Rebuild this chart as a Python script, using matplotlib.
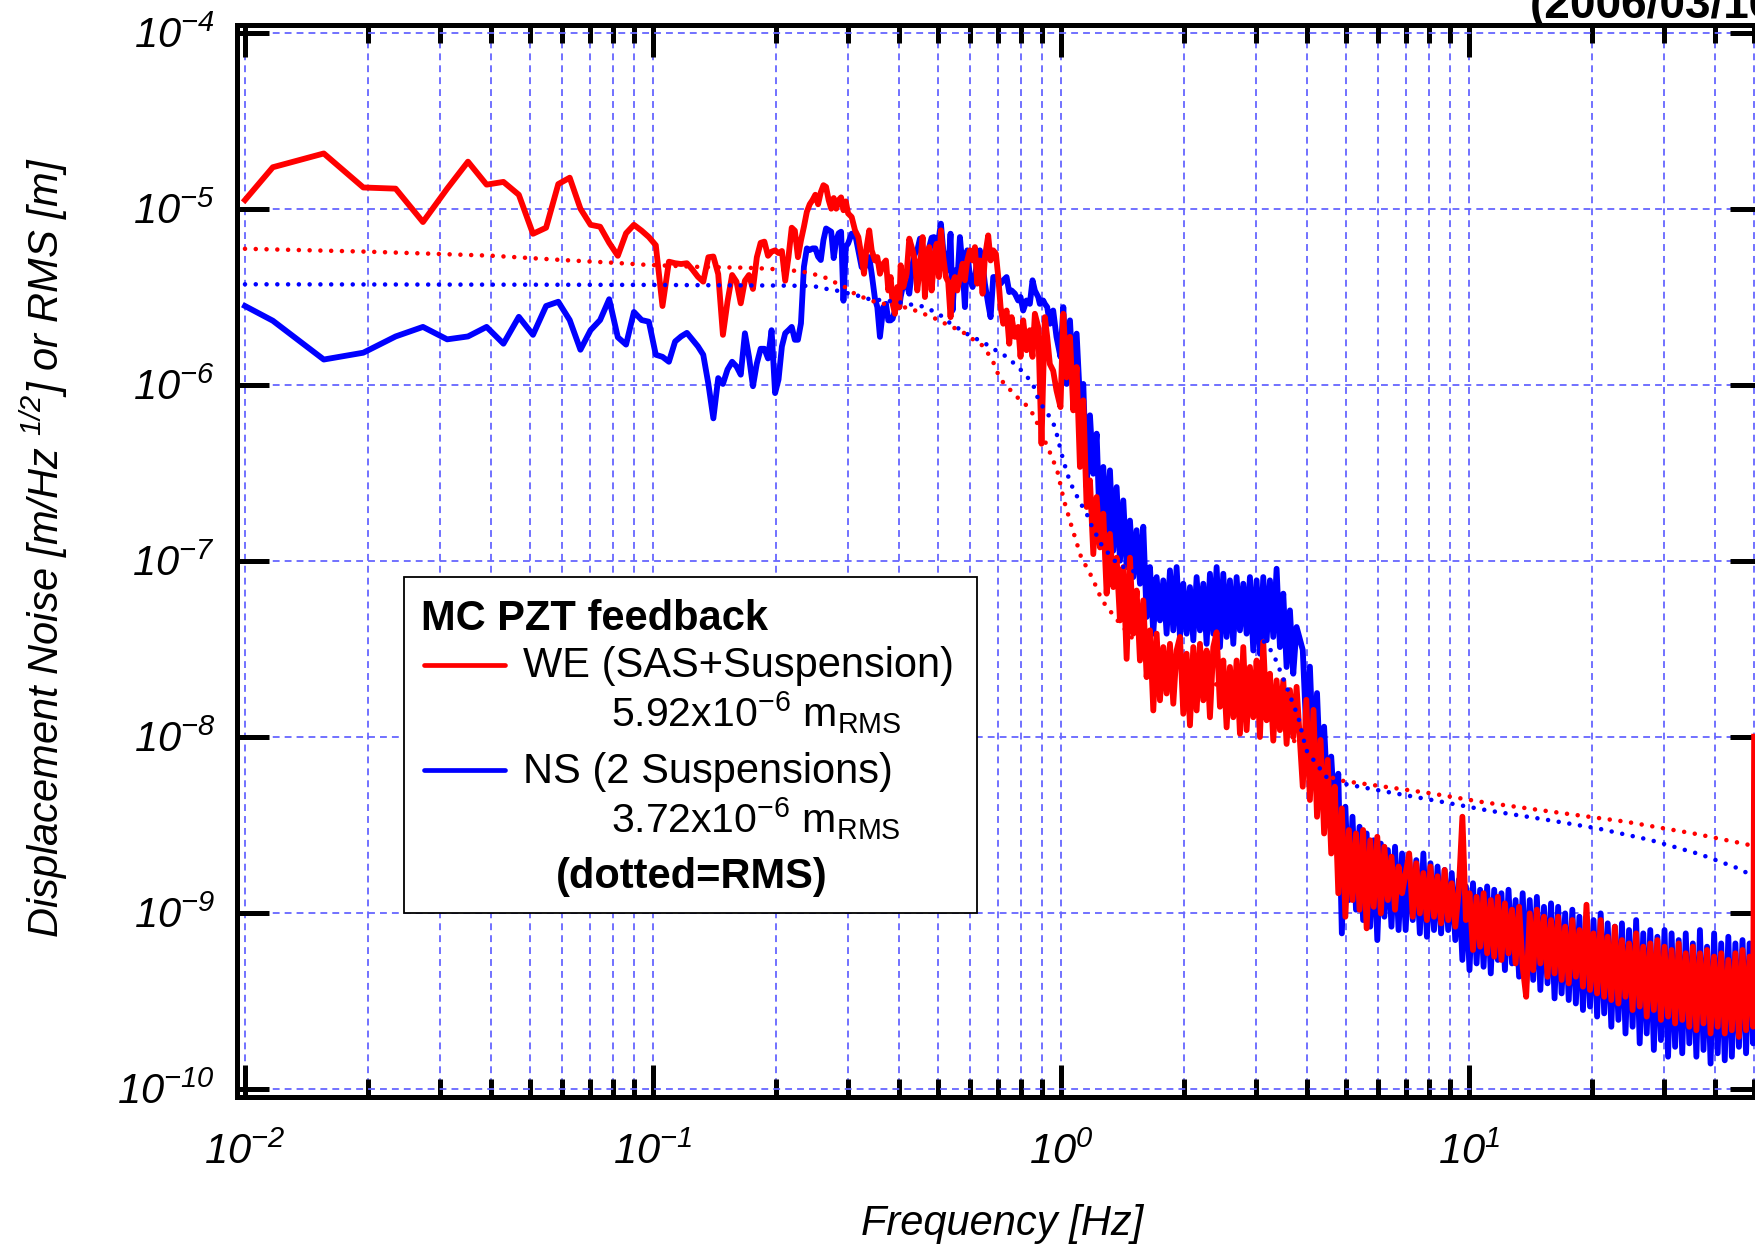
import matplotlib
matplotlib.use("Agg")
import matplotlib.pyplot as plt
from matplotlib.patches import Rectangle
from matplotlib.lines import Line2D
from matplotlib.ticker import FixedLocator, NullFormatter, NullLocator, FixedFormatter

plt.rcParams['font.family'] = ['Liberation Sans', 'DejaVu Sans']
plt.rcParams['mathtext.fontset'] = 'custom'
plt.rcParams['mathtext.rm'] = 'Liberation Sans:italic'
plt.rcParams['mathtext.it'] = 'Liberation Sans:italic'
plt.rcParams['mathtext.sf'] = 'Liberation Sans'
plt.rcParams['mathtext.bf'] = 'Liberation Sans:bold'

# ---------------- data ----------------
freq_hz = [
    0.0100, 0.0117, 0.0156, 0.0195, 0.0234, 0.0273, 0.0313, 0.0352, 0.0391, 0.0430,
    0.0469, 0.0508, 0.0547, 0.0586, 0.0625, 0.0664, 0.0703, 0.0742, 0.0781, 0.0820,
    0.0859, 0.0898, 0.0938, 0.0977, 0.1016, 0.1055, 0.1094, 0.1133, 0.1172, 0.1211,
    0.1250, 0.1289, 0.1328, 0.1367, 0.1406, 0.1445, 0.1484, 0.1523, 0.1563, 0.1602,
    0.1641, 0.1680, 0.1719, 0.1758, 0.1797, 0.1836, 0.1875, 0.1914, 0.1953, 0.1992,
    0.2031, 0.2070, 0.2109, 0.2148, 0.2188, 0.2227, 0.2266, 0.2305, 0.2344, 0.2383,
    0.2422, 0.2461, 0.2500, 0.2539, 0.2578, 0.2617, 0.2656, 0.2695, 0.2734, 0.2773,
    0.2813, 0.2852, 0.2891, 0.2930, 0.2969, 0.3008,
    0.3069, 0.3128, 0.3187, 0.3246, 0.3290, 0.3339, 0.3389, 0.3436, 0.3500, 0.3547,
    0.3600, 0.3668, 0.3724, 0.3774, 0.3824, 0.3867, 0.3918, 0.3970, 0.4015, 0.4046,
    0.4108, 0.4185, 0.4248, 0.4329, 0.4386, 0.4444, 0.4512, 0.4580, 0.4640, 0.4685,
    0.4755, 0.4819, 0.4882, 0.4956, 0.5021, 0.5078, 0.5146, 0.5223, 0.5292, 0.5362,
    0.5423, 0.5495, 0.5569, 0.5653, 0.5739, 0.5815, 0.5892, 0.5981, 0.6073, 0.6153,
    0.6234, 0.6328, 0.6424, 0.6509, 0.6632, 0.6722, 0.6823, 0.6926, 0.7019, 0.7112,
    0.7220, 0.7356, 0.7468, 0.7567, 0.7710, 0.7855, 0.7959, 0.8079, 0.8233, 0.8389,
    0.8516, 0.8630, 0.8794, 0.8876, 0.8960, 0.9045, 0.9130, 0.9252, 0.9391, 0.9570,
    0.9750, 0.9972,
    1.0133, 1.0325, 1.0521, 1.0720, 1.0924, 1.1131, 1.1342, 1.1558, 1.1777, 1.2001,
    1.2229, 1.2461, 1.2698, 1.2939, 1.3184, 1.3435, 1.3690, 1.3950, 1.4215, 1.4485,
    1.4760, 1.5040, 1.5326, 1.5617, 1.5913, 1.6216, 1.6523, 1.6837, 1.7157, 1.7483,
    1.7815, 1.8153, 1.8498, 1.8849, 1.9207, 1.9572, 1.9943, 2.0322, 2.0708, 2.1101,
    2.1502, 2.1910, 2.2326, 2.2750, 2.3182, 2.3622, 2.4071, 2.4528, 2.4993, 2.5468,
    2.5951, 2.6444, 2.6946, 2.7458, 2.7979, 2.8510, 2.9052, 2.9603, 3.0165, 3.0738,
    3.1321, 3.1916, 3.2522, 3.3139, 3.3768, 3.4409, 3.5063, 3.5728, 3.6407, 3.7098,
    3.7802,
    3.914, 3.994, 4.075, 4.158, 4.242, 4.328, 4.415, 4.505, 4.596, 4.689,
    4.783, 4.880, 4.978, 5.079, 5.182, 5.286, 5.393, 5.502, 5.613, 5.727,
    5.842, 5.961, 6.081, 6.204, 6.329, 6.457, 6.588, 6.721, 6.856, 6.995,
    7.136, 7.281, 7.428, 7.578, 7.731, 7.887, 8.047, 8.209, 8.375, 8.544,
    8.717, 8.894, 9.073, 9.257, 9.444, 9.635, 9.829, 10.03, 10.23, 10.44,
    10.65, 10.86, 11.08, 11.31, 11.53, 11.77, 12.01, 12.25, 12.50, 12.75,
    13.01, 13.27, 13.54, 13.81, 14.09, 14.37, 14.67, 14.96, 15.27, 15.58,
    15.89, 16.21, 16.54, 16.87, 17.21, 17.56, 17.92, 18.28, 18.65, 19.03,
    19.41, 19.80, 20.20, 20.61, 21.03, 21.45, 21.88, 22.33, 22.78, 23.24,
    23.71, 24.19, 24.68, 25.18, 25.69, 26.21, 26.74, 27.27, 27.82, 28.39,
    28.96, 29.55, 30.15, 30.76, 31.38, 32.01, 32.66, 33.32, 33.99, 34.68,
    35.38, 36.09, 36.82, 37.57, 38.33, 39.10, 39.89, 40.70, 41.52, 42.36,
    43.22, 44.09, 44.98, 45.89, 46.82, 47.77, 48.73, 49.72,
    50.00,
]

we_asd = [  # WE (SAS+Suspension), m/rtHz
    1.12e-5, 1.72e-5, 2.06e-5, 1.32e-5, 1.30e-5, 8.4e-6, 1.30e-5, 1.85e-5, 1.37e-5, 1.42e-5,
    1.20e-5, 7.2e-6, 7.8e-6, 1.38e-5, 1.50e-5, 1.00e-5, 8.1e-6, 7.9e-6, 6.4e-6, 5.4e-6,
    7.25e-6, 8.1e-6, 7.5e-6, 6.9e-6, 6.2e-6, 2.8e-6, 5.0e-6, 4.9e-6, 4.85e-6, 4.9e-6,
    4.5e-6, 4.1e-6, 3.85e-6, 5.3e-6, 5.35e-6, 4.25e-6, 1.92e-6, 2.97e-6, 4.2e-6, 3.85e-6,
    2.9e-6, 3.9e-6, 4.2e-6, 3.5e-6, 5.3e-6, 6.4e-6, 6.5e-6, 5.4e-6, 5.7e-6, 5.8e-6,
    5.6e-6, 5.75e-6, 3.9e-6, 5.3e-6, 7.8e-6, 7.5e-6, 5.3e-6, 6.6e-6, 7.9e-6, 9.6e-6,
    1.06e-5, 1.12e-5, 1.20e-5, 1.06e-5, 1.24e-5, 1.36e-5, 1.33e-5, 1.12e-5, 1.00e-5, 1.15e-5,
    1.00e-5, 1.12e-5, 1.16e-5, 9.8e-6, 1.10e-5, 9.4e-6,
    8.97e-6, 7.53e-6, 6.9e-6, 5.31e-6, 4.27e-6, 6.05e-6, 7.53e-6, 5.8e-6, 5.08e-6, 5.31e-6,
    4.27e-6, 4.87e-6, 5.08e-6, 3.43e-6, 4.09e-6, 2.88e-6, 2.53e-6, 3.59e-6, 2.76e-6, 4.77e-6,
    3.59e-6, 4.27e-6, 6.76e-6, 5.8e-6, 5.08e-6, 3.43e-6, 4.67e-6, 6.9e-6, 3.15e-6, 4.67e-6,
    6.05e-6, 3.43e-6, 5.08e-6, 6.32e-6, 4.09e-6, 7.53e-6, 5.31e-6, 4.09e-6, 3.83e-6, 2.42e-6,
    3.75e-6, 4.09e-6, 3.43e-6, 4.09e-6, 4.87e-6, 3.92e-6, 5.08e-6, 5.8e-6, 5.08e-6, 6.05e-6,
    3.75e-6, 5.08e-6, 3.29e-6, 5.31e-6, 7.05e-6, 5.08e-6, 5.8e-6, 5.55e-6, 4.09e-6, 2.76e-6,
    2.22e-6, 2.64e-6, 1.71e-6, 2.42e-6, 1.87e-6, 2.13e-6, 1.44e-6, 2.32e-6, 1.57e-6, 2.04e-6,
    1.44e-6, 2.53e-6, 2.13e-6, 1.01e-6, 4.62e-7, 1.10e-6, 2.42e-6, 1.87e-6, 1.31e-6, 1.20e-6,
    9.28e-7, 7.46e-7,
    2.53e-6, 1.10e-6, 1.87e-6, 7.15e-7, 1.26e-6, 3.41e-7, 8.15e-7, 2.02e-7, 2.86e-7, 1.09e-7,
    2.30e-7, 1.19e-7, 1.85e-7, 6.5e-8, 1.42e-7, 7.08e-8, 1.04e-7, 4.58e-8, 9.2e-8, 2.77e-8,
    1.04e-7, 3.85e-8, 6.77e-8, 2.71e-8, 5.95e-8, 2.18e-8, 4.02e-8, 1.41e-8, 3.85e-8, 1.61e-8,
    3.23e-8, 1.76e-8, 3.37e-8, 1.54e-8, 3.09e-8, 3.69e-8, 1.35e-8, 2.96e-8, 1.16e-8, 3.23e-8,
    1.41e-8, 3.37e-8, 1.61e-8, 3.09e-8, 1.29e-8, 3.23e-8, 3.92e-8, 1.48e-8, 2.71e-8, 1.13e-8,
    2.49e-8, 1.29e-8, 2.71e-8, 1.04e-8, 3.23e-8, 1.09e-8, 2.49e-8, 1.29e-8, 2.71e-8, 9.96e-9,
    3.45e-8, 1.24e-8, 2.28e-8, 9.5e-9, 2.09e-8, 1.09e-8, 2.09e-8, 9.1e-9, 1.84e-8, 9.96e-9,
    1.92e-8,
    5.20e-9, 1.62e-8, 4.37e-9, 1.42e-8, 3.51e-9, 9.58e-9, 2.82e-9, 7.38e-9, 2.17e-9, 5.20e-9,
    1.29e-9, 3.91e-9, 9.49e-10, 2.95e-9, 1.18e-9, 2.82e-9, 1.04e-9, 2.95e-9, 8.15e-10, 2.58e-9,
    1.08e-9, 2.70e-9, 9.91e-10, 2.37e-9, 1.18e-9, 2.08e-9, 1.04e-9, 1.83e-9, 1.29e-9, 1.68e-9,
    2.17e-9, 9.49e-10, 1.91e-9, 9.91e-10, 1.68e-9, 9.08e-10, 1.83e-9, 9.49e-10, 1.61e-9, 8.70e-10,
    1.75e-9, 9.08e-10, 1.47e-9, 8.33e-10, 1.35e-9, 3.51e-9, 9.08e-10, 1.29e-9, 6.14e-10, 1.23e-9,
    6.41e-10, 1.29e-9, 5.88e-10, 1.18e-9, 5.63e-10, 1.23e-9, 5.39e-10, 1.13e-9, 5.88e-10, 1.04e-9,
    5.15e-10, 1.08e-9, 4.93e-10, 3.33e-10, 9.91e-10, 4.72e-10, 1.04e-9, 5.15e-10, 9.49e-10, 4.33e-10,
    9.08e-10, 4.52e-10, 9.49e-10, 4.15e-10, 8.33e-10, 3.97e-10, 9.08e-10, 4.33e-10, 7.97e-10, 3.80e-10,
    1.11e-9, 3.64e-10, 7.63e-10, 3.48e-10, 9.08e-10, 3.33e-10, 7.30e-10, 3.19e-10, 8.33e-10, 3.05e-10,
    6.99e-10, 3.33e-10, 6.69e-10, 2.80e-10, 7.63e-10, 2.93e-10, 6.41e-10, 2.57e-10, 6.69e-10, 2.80e-10,
    6.99e-10, 2.46e-10, 6.41e-10, 2.57e-10, 6.14e-10, 2.35e-10, 6.69e-10, 2.46e-10, 5.88e-10, 2.25e-10,
    6.41e-10, 2.15e-10, 5.88e-10, 2.35e-10, 6.14e-10, 2.06e-10, 5.63e-10, 2.25e-10, 5.88e-10, 2.06e-10,
    5.39e-10, 2.15e-10, 5.88e-10, 1.97e-10, 6.14e-10, 2.15e-10, 5.63e-10, 2.25e-10,
    1.0e-8,
]

ns_asd = [  # NS (2 Suspensions), m/rtHz
    2.80e-6, 2.31e-6, 1.39e-6, 1.52e-6, 1.88e-6, 2.13e-6, 1.81e-6, 1.88e-6, 2.13e-6, 1.71e-6,
    2.43e-6, 1.92e-6, 2.80e-6, 2.96e-6, 2.33e-6, 1.58e-6, 2.04e-6, 2.33e-6, 3.06e-6, 1.86e-6,
    1.69e-6, 2.59e-6, 2.33e-6, 2.28e-6, 1.48e-6, 1.44e-6, 1.35e-6, 1.76e-6, 1.88e-6, 1.97e-6,
    1.80e-6, 1.65e-6, 1.48e-6, 1.01e-6, 6.44e-7, 1.09e-6, 1.01e-6, 1.22e-6, 1.35e-6, 1.27e-6,
    1.14e-6, 1.96e-6, 1.44e-6, 9.8e-7, 1.32e-6, 1.60e-6, 1.60e-6, 1.41e-6, 2.04e-6, 8.96e-7,
    1.07e-6, 1.65e-6, 1.96e-6, 2.04e-6, 2.13e-6, 1.80e-6, 1.80e-6, 2.23e-6, 4.68e-6, 5.95e-6,
    5.82e-6, 5.95e-6, 5.95e-6, 5.34e-6, 5.11e-6, 6.63e-6, 7.72e-6, 7.56e-6, 7.40e-6, 5.24e-6,
    6.63e-6, 7.25e-6, 7.40e-6, 3.0e-6, 6.08e-6, 6.35e-6,
    7.21e-6, 7.21e-6, 5.8e-6, 4.66e-6, 4.56e-6, 4.87e-6, 5.31e-6, 4.27e-6, 3.08e-6, 2.76e-6,
    1.87e-6, 2.76e-6, 2.88e-6, 2.32e-6, 2.32e-6, 2.37e-6, 2.64e-6, 3.29e-6, 2.76e-6, 3.15e-6,
    3.75e-6, 3.75e-6, 3.29e-6, 4.87e-6, 5.55e-6, 5.8e-6, 6.76e-6, 5.93e-6, 4.87e-6, 5.31e-6,
    6.05e-6, 6.84e-6, 6.9e-6, 4.87e-6, 6.9e-6, 8.22e-6, 5.8e-6, 5.08e-6, 4.46e-6, 7.21e-6,
    2.64e-6, 4.46e-6, 3.75e-6, 6.9e-6, 4.66e-6, 2.76e-6, 5.8e-6, 4.09e-6, 3.59e-6, 4.09e-6,
    5.08e-6, 5.8e-6, 4.87e-6, 3.75e-6, 2.88e-6, 2.42e-6, 4.09e-6, 4.09e-6, 3.92e-6, 3.75e-6,
    3.92e-6, 4.09e-6, 3.36e-6, 3.43e-6, 3.29e-6, 3.01e-6, 3.15e-6, 2.64e-6, 3.01e-6, 2.88e-6,
    3.92e-6, 3.43e-6, 3.15e-6, 2.88e-6, 3.01e-6, 3.01e-6, 2.88e-6, 2.76e-6, 2.22e-6, 2.64e-6,
    1.87e-6, 1.44e-6,
    2.76e-6, 1.01e-6, 2.32e-6, 1.01e-6, 1.95e-6, 8.15e-7, 1.01e-6, 2.62e-7, 6.7e-7, 3.12e-7,
    5.27e-7, 1.42e-7, 3.41e-7, 1.42e-7, 3.26e-7, 1.14e-7, 2.62e-7, 1.00e-7, 2.20e-7, 9.2e-8,
    1.69e-7, 8.07e-8, 1.49e-7, 7.4e-8, 1.56e-7, 4.79e-8, 9.2e-8, 3.85e-8, 8.07e-8, 4.58e-8,
    7.73e-8, 3.85e-8, 8.81e-8, 4.02e-8, 9.2e-8, 3.69e-8, 7.4e-8, 3.85e-8, 7.08e-8, 3.53e-8,
    8.07e-8, 4.02e-8, 7.4e-8, 3.37e-8, 8.43e-8, 3.85e-8, 9.2e-8, 3.23e-8, 8.43e-8, 3.69e-8,
    7.73e-8, 3.37e-8, 8.07e-8, 4.02e-8, 7.4e-8, 3.85e-8, 8.07e-8, 3.09e-8, 7.73e-8, 2.96e-8,
    8.07e-8, 3.53e-8, 7.73e-8, 3.69e-8, 9.0e-8, 3.23e-8, 6.5e-8, 2.49e-8, 5.22e-8, 2.28e-8,
    4.2e-8,
    3.11e-8, 1.05e-8, 2.50e-8, 7.38e-9, 1.77e-8, 5.67e-9, 1.14e-8, 4.37e-9, 7.71e-9, 3.51e-9,
    6.16e-9, 7.63e-10, 4.0e-9, 1.18e-9, 3.51e-9, 1.04e-9, 3.08e-9, 9.08e-10, 2.82e-9, 8.33e-10,
    2.58e-9, 6.99e-10, 2.47e-9, 9.49e-10, 2.27e-9, 8.33e-10, 2.37e-9, 7.97e-10, 2.17e-9, 7.97e-10,
    2.08e-9, 9.08e-10, 1.99e-9, 7.63e-10, 2.17e-9, 7.30e-10, 1.91e-9, 7.97e-10, 1.83e-9, 7.63e-10,
    1.75e-9, 7.97e-10, 1.68e-9, 6.99e-10, 1.54e-9, 5.39e-10, 1.41e-9, 4.72e-10, 1.47e-9, 5.15e-10,
    1.35e-9, 4.93e-10, 1.41e-9, 4.52e-10, 1.35e-9, 5.39e-10, 1.29e-9, 4.72e-10, 1.35e-9, 5.15e-10,
    1.18e-9, 4.33e-10, 1.29e-9, 3.97e-10, 1.18e-9, 4.15e-10, 1.23e-9, 3.64e-10, 1.08e-9, 3.97e-10,
    1.13e-9, 3.26e-10, 1.08e-9, 3.48e-10, 9.91e-10, 3.19e-10, 1.04e-9, 3.05e-10, 9.49e-10, 2.80e-10,
    9.49e-10, 2.93e-10, 9.08e-10, 2.57e-10, 9.91e-10, 2.68e-10, 8.70e-10, 2.25e-10, 8.33e-10, 2.46e-10,
    8.70e-10, 2.06e-10, 7.97e-10, 2.25e-10, 9.08e-10, 1.81e-10, 7.63e-10, 2.06e-10, 7.97e-10, 1.66e-10,
    7.30e-10, 1.89e-10, 7.97e-10, 1.52e-10, 7.63e-10, 1.73e-10, 6.99e-10, 1.59e-10, 7.63e-10, 1.81e-10,
    6.69e-10, 1.52e-10, 7.97e-10, 1.66e-10, 6.41e-10, 1.39e-10, 7.63e-10, 1.59e-10, 6.69e-10, 1.45e-10,
    7.30e-10, 1.52e-10, 6.69e-10, 1.73e-10, 6.99e-10, 1.59e-10, 6.69e-10, 1.81e-10,
    6.0e-10,
]

we_rms_freq = [0.0100, 0.0200, 0.0400, 0.0600, 0.0800, 0.0962, 0.1327, 0.1696, 0.1917, 0.2170,
               0.2290, 0.2460, 0.2643, 0.2814, 0.2977, 0.3159, 0.3348, 0.3560, 0.3783, 0.3990,
               0.4244, 0.4502, 0.4767, 0.5078, 0.5369, 0.5681, 0.6000, 0.6420, 0.6700, 0.6920,
               0.7060, 0.7425, 0.7850, 0.8300, 0.8630, 0.8880, 0.9300, 0.9570, 0.9850, 1.0000,
               1.0200, 1.0400, 1.0580, 1.1200, 1.1940, 1.2600, 1.3700, 1.5000, 2.0000, 2.5000,
               3.0000, 3.5000, 4.0000, 4.4000, 4.7300, 5.9600, 8.0500, 10.870, 16.200, 24.200,
               36.100, 47.800, 50.000]
we_rms = [5.92e-6, 5.70e-6, 5.41e-6, 5.11e-6, 4.93e-6, 4.80e-6, 4.66e-6, 4.62e-6, 4.56e-6, 4.46e-6,
          4.42e-6, 4.27e-6, 4.06e-6, 3.78e-6, 3.56e-6, 3.22e-6, 3.08e-6, 2.91e-6, 2.86e-6, 2.76e-6,
          2.74e-6, 2.57e-6, 2.46e-6, 2.29e-6, 2.14e-6, 2.03e-6, 1.85e-6, 1.67e-6, 1.45e-6, 1.26e-6,
          1.09e-6, 9.6e-7, 8.4e-7, 7.5e-7, 6.55e-7, 5.5e-7, 4.36e-7, 3.72e-7, 3.1e-7, 2.6e-7,
          2.15e-7, 1.85e-7, 1.61e-7, 1.05e-7, 7.97e-8, 5.96e-8, 4.63e-8, 3.6e-8, 2.4e-8, 1.9e-8,
          1.45e-8, 1.1e-8, 8.0e-9, 6.3e-9, 5.68e-9, 5.27e-9, 4.77e-9, 4.24e-9, 3.73e-9, 3.29e-9,
          2.80e-9, 2.45e-9, 2.38e-9]

ns_rms_freq = [0.0100, 0.0500, 0.1000, 0.1500, 0.2000, 0.2470, 0.2590, 0.2814, 0.3159, 0.3348,
               0.3783, 0.4000, 0.4244, 0.4502, 0.4767, 0.5078, 0.5369, 0.5681, 0.5974, 0.6430,
               0.6823, 0.7260, 0.7710, 0.8160, 0.8550, 0.8713, 0.9020, 0.9391, 0.9670, 0.9900,
               1.0130, 1.0520, 1.0820, 1.1130, 1.1560, 1.1860, 1.2620, 1.3800, 1.6000, 2.0000,
               2.5000, 3.0000, 3.3100, 3.5600, 3.8200, 3.9900, 4.4600, 4.8800, 6.1400, 8.2900,
               11.200, 15.300, 20.700, 27.800, 36.800, 45.000, 49.200, 50.000]
ns_rms = [3.72e-6, 3.70e-6, 3.69e-6, 3.67e-6, 3.66e-6, 3.64e-6, 3.54e-6, 3.43e-6, 3.22e-6, 3.08e-6,
          2.99e-6, 2.95e-6, 2.86e-6, 2.82e-6, 2.68e-6, 2.47e-6, 2.22e-6, 2.05e-6, 1.90e-6, 1.75e-6,
          1.60e-6, 1.47e-6, 1.31e-6, 1.15e-6, 1.00e-6, 8.7e-7, 7.5e-7, 6.55e-7, 5.75e-7, 4.6e-7,
          3.72e-7, 2.8e-7, 2.45e-7, 2.15e-7, 1.85e-7, 1.6e-7, 1.21e-7, 9.5e-8, 8.2e-8, 6.8e-8,
          5.5e-8, 4.0e-8, 2.98e-8, 1.96e-8, 1.28e-8, 8.4e-9, 5.93e-9, 5.43e-9, 4.91e-9, 4.33e-9,
          3.80e-9, 3.39e-9, 3.01e-9, 2.59e-9, 2.15e-9, 1.81e-9, 1.64e-9, 1.60e-9]

x_major = [0.01, 0.1, 1.0, 10.0]
x_major_labels = [r'$10^{-2}$', r'$10^{-1}$', r'$10^{0}$', r'$10^{1}$']
x_minor = [0.02, 0.03, 0.04, 0.05, 0.06, 0.07, 0.08, 0.09,
           0.2, 0.3, 0.4, 0.5, 0.6, 0.7, 0.8, 0.9,
           2, 3, 4, 5, 6, 7, 8, 9, 20, 30, 40, 50]
y_major = [1e-10, 1e-9, 1e-8, 1e-7, 1e-6, 1e-5, 1e-4]
y_major_labels = [r'$10^{-10}$', r'$10^{-9}$', r'$10^{-8}$', r'$10^{-7}$',
                  r'$10^{-6}$', r'$10^{-5}$', r'$10^{-4}$']

# ---------------- figure ----------------
W, H = 1756, 1248
fig = plt.figure(figsize=(W / 100, H / 100), dpi=100)
ax_l, ax_r, ax_t, ax_b = 237.5, 1761.5, 25.0, 1096.7
ax = fig.add_axes([ax_l / W, 1 - ax_b / H, (ax_r - ax_l) / W, (ax_b - ax_t) / H])

RED = '#ff0000'
BLUE = '#0000ff'
GRID = '#6666ff'

ax.plot(freq_hz, ns_asd, color=BLUE, lw=4.2, solid_joinstyle='round', zorder=2)
ax.plot(freq_hz, we_asd, color=RED, lw=4.2, solid_joinstyle='round', zorder=3)
ax.plot(ns_rms_freq, ns_rms, color=BLUE, lw=3.3, linestyle=(0, (0.001, 2.35)),
        dash_capstyle='round', zorder=4)
ax.plot(we_rms_freq, we_rms, color=RED, lw=3.3, linestyle=(0, (0.001, 2.35)),
        dash_capstyle='round', zorder=5)

ax.set_xscale('log')
ax.set_yscale('log')
ax.set_xlim(0.009586, 52.12)
ax.set_ylim(9.007e-11, 1.106e-4)

ax.xaxis.set_major_locator(FixedLocator(x_major))
ax.xaxis.set_major_formatter(FixedFormatter(x_major_labels))
ax.xaxis.set_minor_locator(FixedLocator(x_minor))
ax.xaxis.set_minor_formatter(NullFormatter())
ax.yaxis.set_major_locator(FixedLocator(y_major))
ax.yaxis.set_major_formatter(FixedFormatter(y_major_labels))
ax.yaxis.set_minor_locator(NullLocator())

ax.tick_params(which='major', direction='in', length=23, width=3.6, top=True, right=True,
               labelsize=30, color='black')
ax.tick_params(axis='x', which='major', pad=26)
ax.tick_params(axis='y', which='major', pad=16)
ax.tick_params(which='minor', direction='in', length=12.7, width=3.6, top=True, right=True)
for sp in ax.spines.values():
    sp.set_linewidth(3.6)

ax.grid(True, which='major', axis='both', color=GRID, lw=1.3, linestyle=(0, (3.8, 2.8)))
ax.grid(True, which='minor', axis='x', color=GRID, lw=1.3, linestyle=(0, (3.8, 2.8)))
ax.set_axisbelow(True)

ax.set_xlabel('Frequency [Hz]', fontsize=30, fontstyle='italic')
ax.xaxis.label.set_va('baseline')
ax.xaxis.set_label_coords((1002 - ax_l) / (ax_r - ax_l), -(1235 - ax_b) / (ax_b - ax_t))
ax.set_ylabel(r'Displacement Noise [m/Hz $^{1/2}$] or RMS [m]', fontsize=30,
              fontstyle='italic')
ax.yaxis.set_label_coords((70 - ax_l) / (ax_r - ax_l), (ax_b - 548) / (ax_b - ax_t))


def fx(px):
    return px / W


def fy(py):
    return 1 - py / H


# legend box (drawn by hand)
box = Rectangle((fx(404), fy(913)), fx(977) - fx(404), fy(577) - fy(913),
                transform=fig.transFigure, facecolor='white', edgecolor='black', lw=1.3, zorder=5)
fig.add_artist(box)
fig.add_artist(Line2D([fx(424), fx(505)], [fy(665), fy(665)], transform=fig.transFigure,
                      color=RED, lw=3.4, solid_capstyle='round', zorder=6))
fig.add_artist(Line2D([fx(424), fx(505)], [fy(770), fy(770)], transform=fig.transFigure,
                      color=BLUE, lw=3.4, solid_capstyle='round', zorder=6))
fig.text(fx(421), fy(630), 'MC PZT feedback', fontsize=30, fontweight='bold',
         va='baseline', ha='left', zorder=6)
fig.text(fx(523), fy(677), 'WE (SAS+Suspension)', fontsize=30, va='baseline', ha='left', zorder=6)
fig.text(fx(611), fy(727), r'5.92x10$^{\mathsf{-6}}$ m$_{\mathsf{RMS}}$', fontsize=29.5,
         va='baseline', ha='left', zorder=6)
fig.text(fx(523), fy(783), 'NS (2 Suspensions)', fontsize=30, va='baseline', ha='left', zorder=6)
fig.text(fx(611), fy(833), r'3.72x10$^{\mathsf{-6}}$ m$_{\mathsf{RMS}}$', fontsize=29.5,
         va='baseline', ha='left', zorder=6)
fig.text(fx(692), fy(888), '(dotted=RMS)', fontsize=30, fontweight='bold',
         va='baseline', ha='center', zorder=6)

# title, cut off by the top edge as in the source image
fig.text(fx(1530), fy(18), '(2006/03/16)', fontsize=33, fontweight='bold',
         va='baseline', ha='left')

fig.savefig('out.png', dpi=100)
